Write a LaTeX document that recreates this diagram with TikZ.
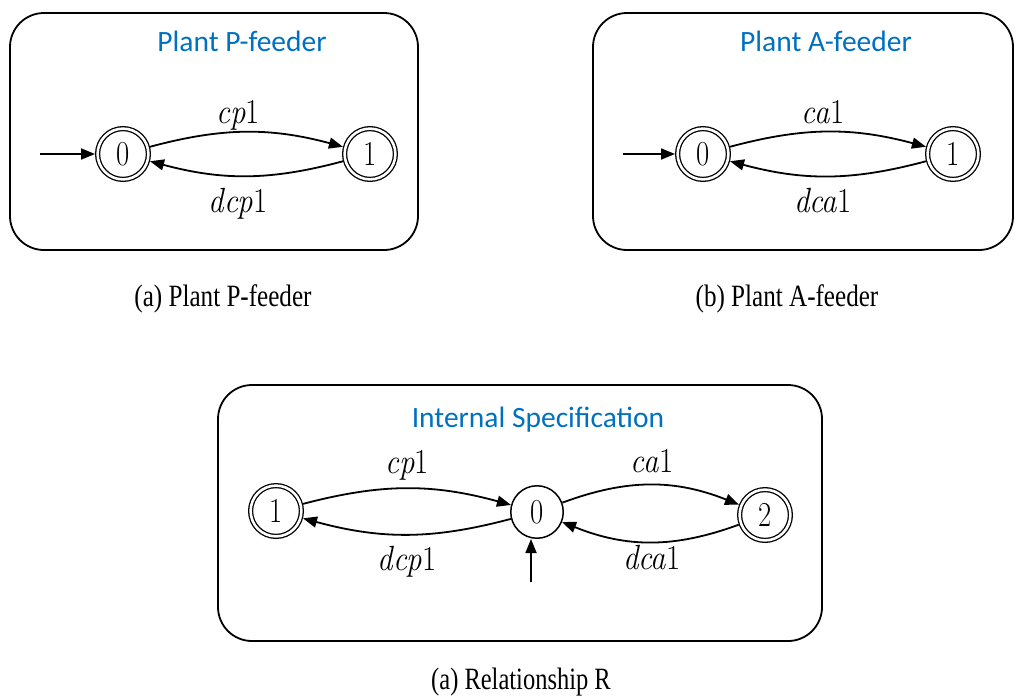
\documentclass[tikz,border=0pt]{standalone}
\usepackage{fontspec}
\newfontfamily\titlefont{Carlito}
\newfontfamily\capfont{Liberation Serif}
\usetikzlibrary{arrows.meta}
\newcommand{\sqz}[2]{\scalebox{#1}[1]{#2}}
\definecolor{titleblue}{RGB}{0,112,192}
\begin{document}
\begin{tikzpicture}[x=1pt,y=-1pt,
  box/.style={draw, line width=1.8pt, rounded corners=34pt},
  title/.style={text=titleblue, font=\titlefont\fontsize{29.5}{32}\selectfont, anchor=base, inner sep=0pt},
  dstate/.style={circle, draw, line width=1.3pt, double, double distance=2.6pt, minimum size=50.8pt, inner sep=0pt, outer sep=2.6pt, font=\fontsize{35}{35}\selectfont},
  sstate/.style={circle, draw, line width=1.5pt, minimum size=52.5pt, inner sep=0pt, outer sep=0.75pt, font=\fontsize{35}{35}\selectfont},
  edge/.style={-{Triangle[length=14pt,width=11pt]}, line width=1.8pt},
  lbl/.style={anchor=base, inner sep=0pt, font=\fontsize{35}{35}\selectfont},
  caption/.style={anchor=base, inner sep=0pt, font=\capfont\fontsize{31}{33}\selectfont}]
\useasboundingbox (0,0) rectangle (1016,697);

% ---------- Box 1: Plant P-feeder ----------
\draw[box] (10,13) rectangle (418,250);
\node[title] (t1) at (242,51) {Plant P-feeder};
\node[dstate] (p0) at (123,154) {\sqz{0.82}{0}};
\node[dstate] (p1) at (370,154) {\sqz{0.82}{1}};
\coordinate (ip) at (40,154);
\draw[edge] (ip) -- (p0);
\draw[edge] (p0) to[bend left=15] (p1);
\draw[edge] (p1) to[bend left=15] (p0);
\node[lbl] (lcp1) at (238,123) {\sqz{0.88}{\textit{cp}1}};
\node[lbl] (ldcp1) at (238,212) {\sqz{0.88}{\textit{dcp}1}};

% ---------- Box 2: Plant A-feeder ----------
\draw[box] (593,13) rectangle (1013,250);
\node[title] (t2) at (826,51) {Plant A-feeder};
\node[dstate] (a0) at (703,154) {\sqz{0.82}{0}};
\node[dstate] (a1) at (953,154) {\sqz{0.82}{1}};
\coordinate (ia) at (623,154);
\draw[edge] (ia) -- (a0);
\draw[edge] (a0) to[bend left=15] (a1);
\draw[edge] (a1) to[bend left=15] (a0);
\node[lbl] (lca1) at (823,123) {\sqz{0.88}{\textit{ca}1}};
\node[lbl] (ldca1) at (823,212) {\sqz{0.88}{\textit{dca}1}};

% ---------- captions ----------
\node[caption] (c1) at (223,306) {\sqz{0.81}{(a) Plant P-feeder}};
\node[caption] (c2) at (787,306) {\sqz{0.81}{(b) Plant A-feeder}};

% ---------- Box 3: Internal Specification ----------
\draw[box] (218,385) rectangle (822,641);
\node[title] (t3) at (538,427) {Internal Specification};
\node[dstate] (r1) at (276,511) {\sqz{0.82}{1}};
\node[sstate] (r0) at (537,512) {\sqz{0.82}{0}};
\node[dstate] (r2) at (765,515) {\sqz{0.82}{2}};
\coordinate (ir) at (531,582);
\draw[edge] (ir) -- (ir |- r0.south);
\draw[edge] (r1) to[bend left=15] (r0);
\draw[edge] (r0) to[bend left=15] (r1);
\draw[edge] (r0) to[bend left=21] (r2);
\draw[edge] (r2) to[bend left=21] (r0);
\node[lbl] (lcp1b) at (407,473) {\sqz{0.88}{\textit{cp}1}};
\node[lbl] (ldcp1b) at (407,570) {\sqz{0.88}{\textit{dcp}1}};
\node[lbl] (lca1b) at (652,472) {\sqz{0.88}{\textit{ca}1}};
\node[lbl] (ldca1b) at (652,569) {\sqz{0.88}{\textit{dca}1}};

\node[caption] (c3) at (521,689) {\sqz{0.79}{(a) Relationship R}};
\end{tikzpicture}
\end{document}
